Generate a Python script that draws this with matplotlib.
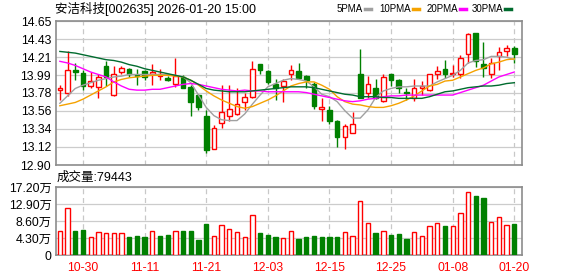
import matplotlib
matplotlib.use("Agg")
import matplotlib.pyplot as plt
from matplotlib.lines import Line2D
import numpy as np

# Data (60 trading days 10-27 .. 01-20)
opens = [13.81, 13.78, 14.06, 14.02, 13.86, 13.85, 14.10, 13.75, 14.03, 14.07,
         13.99, 14.04, 14.00, 13.98, 13.96, 13.89, 13.97, 13.85, 13.75, 13.50,
         13.10, 13.41, 13.49, 13.52, 13.66, 13.73, 14.13, 14.04, 13.88, 13.86,
         14.01, 14.04, 13.98, 13.89, 13.58, 13.57, 13.44, 13.24, 13.29, 14.01,
         13.78, 13.83, 13.68, 14.00, 13.93, 13.79, 13.71, 13.84, 13.81, 14.01,
         14.07, 14.00, 14.01, 14.25, 14.51, 14.13, 14.01, 14.22, 14.29, 14.32]
closes = [13.84, 14.05, 14.03, 13.86, 13.92, 13.97, 13.97, 14.01, 14.08, 14.01,
          13.98, 13.97, 14.03, 14.01, 13.93, 13.98, 13.84, 13.66, 13.61, 13.08,
          13.35, 13.54, 13.58, 13.64, 13.73, 14.07, 14.05, 13.91, 13.83, 13.92,
          14.06, 13.96, 13.93, 13.62, 13.60, 13.43, 13.24, 13.37, 13.40, 13.72,
          13.88, 13.71, 13.97, 13.93, 13.83, 13.78, 13.83, 13.86, 14.00, 14.04,
          14.01, 14.02, 14.20, 14.49, 14.16, 14.08, 14.14, 14.27, 14.32, 14.25]
highs = [13.87, 14.29, 14.14, 14.05, 14.03, 14.01, 14.16, 14.10, 14.10, 14.08,
         14.07, 14.05, 14.13, 14.07, 13.98, 14.20, 13.99, 13.87, 13.76, 13.57,
         13.39, 13.87, 13.87, 13.83, 13.78, 14.16, 14.13, 14.05, 13.94, 13.94,
         14.11, 14.14, 13.99, 13.91, 13.71, 13.62, 13.45, 13.40, 13.54, 14.31,
         13.98, 13.94, 14.00, 14.01, 13.95, 13.83, 13.95, 13.92, 14.00, 14.10,
         14.17, 14.12, 14.24, 14.51, 14.51, 14.39, 14.20, 14.34, 14.36, 14.35]
lows = [13.69, 13.74, 13.93, 13.81, 13.83, 13.71, 13.86, 13.74, 14.00, 13.97,
        13.87, 13.93, 13.87, 13.93, 13.92, 13.85, 13.83, 13.50, 13.57, 13.05,
        13.10, 13.35, 13.44, 13.51, 13.57, 13.71, 14.00, 13.89, 13.69, 13.67,
        13.93, 13.95, 13.84, 13.58, 13.43, 13.40, 13.12, 13.09, 13.29, 13.71,
        13.72, 13.70, 13.67, 13.86, 13.77, 13.69, 13.68, 13.75, 13.80, 13.95,
        13.96, 13.97, 13.96, 14.14, 14.09, 13.97, 13.96, 14.05, 14.22, 14.14]
volumes = [6.04, 12.00, 6.04, 6.29, 4.45, 5.71, 5.54, 5.45, 5.45, 4.53,
           4.78, 4.53, 5.96, 4.78, 5.03, 5.96, 6.04, 6.04, 3.78, 7.80,
           4.70, 7.47, 6.46, 5.79, 4.45, 10.24, 5.54, 5.03, 4.53, 4.20,
           6.04, 4.03, 4.53, 4.78, 4.53, 4.53, 4.53, 5.79, 4.78, 13.76,
           8.05, 5.54, 6.04, 5.03, 5.29, 4.03, 5.79, 4.78, 7.30, 8.05,
           7.30, 7.30, 10.57, 16.03, 14.85, 14.35, 8.31, 9.73, 7.55, 7.94]
ma5 = [13.65, 13.74, 13.83, 13.87, 13.90, 13.93, 13.95, 13.97, 13.98, 14.00,
       14.00, 14.00, 14.00, 14.00, 14.00, 13.99, 13.97, 13.90, 13.75, 13.60,
       13.50, 13.45, 13.44, 13.44, 13.52, 13.64, 13.75, 13.85, 13.89, 13.93,
       13.95, 13.94, 13.92, 13.85, 13.76, 13.73, 13.67, 13.56, 13.47, 13.47,
       13.57, 13.72, 13.80, 13.83, 13.85, 13.85, 13.86, 13.86, 13.86, 13.91,
       13.95, 13.99, 14.05, 14.14, 14.17, 14.18, 14.22, 14.22, 14.21, 14.18]
ma10 = [13.62, 13.64, 13.66, 13.70, 13.75, 13.80, 13.85, 13.91, 13.94, 13.96,
        13.97, 13.98, 13.99, 13.99, 13.99, 13.98, 13.97, 13.93, 13.87, 13.80,
        13.74, 13.69, 13.65, 13.61, 13.59, 13.61, 13.65, 13.69, 13.74, 13.80,
        13.86, 13.89, 13.91, 13.91, 13.87, 13.82, 13.73, 13.67, 13.64, 13.63,
        13.61, 13.60, 13.60, 13.62, 13.65, 13.69, 13.74, 13.80, 13.86, 13.88,
        13.92, 13.93, 13.97, 14.01, 14.05, 14.08, 14.13, 14.15, 14.18, 14.19]
ma20 = [14.16, 14.14, 14.11, 14.07, 14.03, 14.00, 13.97, 13.91, 13.86, 13.82,
        13.81, 13.81, 13.82, 13.82, 13.84, 13.86, 13.88, 13.89, 13.88, 13.86,
        13.84, 13.82, 13.81, 13.80, 13.81, 13.80, 13.80, 13.79, 13.79, 13.79,
        13.79, 13.79, 13.78, 13.76, 13.74, 13.72, 13.70, 13.68, 13.67, 13.68,
        13.70, 13.71, 13.73, 13.74, 13.74, 13.75, 13.75, 13.75, 13.75, 13.75,
        13.75, 13.75, 13.78, 13.81, 13.84, 13.87, 13.92, 13.97, 14.00, 14.03]
ma30 = [14.28, 14.27, 14.26, 14.24, 14.22, 14.20, 14.18, 14.17, 14.15, 14.12,
        14.10, 14.07, 14.05, 14.03, 14.01, 13.99, 13.97, 13.93, 13.88, 13.83,
        13.81, 13.80, 13.79, 13.79, 13.79, 13.80, 13.81, 13.82, 13.83, 13.84,
        13.85, 13.85, 13.85, 13.84, 13.82, 13.80, 13.78, 13.76, 13.75, 13.73,
        13.73, 13.73, 13.72, 13.72, 13.71, 13.71, 13.71, 13.71, 13.73, 13.76,
        13.79, 13.80, 13.82, 13.84, 13.85, 13.86, 13.86, 13.87, 13.89, 13.90]
date_labels = ["10-30", "11-11", "11-21", "12-03", "12-15", "12-25", "01-08", "01-20"]
date_pos = [3, 11, 19, 27, 35, 43, 51, 59]
price_ticks = [12.90, 13.12, 13.34, 13.56, 13.78, 13.99, 14.21, 14.43, 14.65]
vol_ticks = [0, 4.30, 8.60, 12.90, 17.20]

RED = "#ff0000"
GREEN = "#008000"
FRAME = "#8c8c8c"
FONT = ["Liberation Sans", "Noto Sans CJK SC"]
plt.rcParams['font.family'] = FONT

x = np.arange(len(closes))
o = np.array(opens)
c = np.array(closes)
up = c >= o

fig = plt.figure(figsize=(5.78, 2.76), dpi=100)
ax = fig.add_axes([56 / 578, 1 - 165 / 276, 466 / 578, 144 / 276])
axv = fig.add_axes([56 / 578, 1 - 255 / 276, 466 / 578, 68 / 276])

for a in (ax, axv):
    a.set_xlim(-0.5, 60)
    for s in a.spines.values():
        s.set_color(FRAME)
        s.set_linewidth(1.2)
    a.set_xticks(date_pos)
    a.tick_params(length=0)
    a.grid(axis='x', color="#c8c8c8", linestyle=(0, (4, 3)), linewidth=0.9)
    a.grid(axis='y', color="#cccccc", linestyle='-', linewidth=0.9)
    a.set_axisbelow(True)

# candles
colors = np.where(up, RED, GREEN)
ax.vlines(x, lows, highs, colors=colors, linewidth=1, zorder=2)
body_bottom = np.minimum(o, c)
body_h = np.maximum(np.abs(c - o), 0.012)
ax.bar(x, body_h, 0.6, bottom=body_bottom, facecolor=np.where(up, "white", GREEN),
       edgecolor=colors, linewidth=1, zorder=3)

ax.plot(x, ma5, color="#a0a0a0", linewidth=1, zorder=4)
ax.plot(x, ma10, color="#f5a200", linewidth=1, zorder=4)
ax.plot(x, ma20, color="#ff00ff", linewidth=1, zorder=4)
ax.plot(x, ma30, color="#006b2e", linewidth=1, zorder=4)

ax.set_ylim(12.90, 14.65)
ax.set_yticks(price_ticks)
ax.set_yticklabels(["%.2f" % v for v in price_ticks], fontsize=8.8)
ax.set_xticklabels([])

# volume bars, coloured by close vs previous close
prev = np.concatenate([[o[0]], c[:-1]])
vup = c >= prev
axv.bar(x, volumes, 0.56, facecolor=np.where(vup, "white", GREEN),
        edgecolor=np.where(vup, RED, GREEN), linewidth=1, zorder=3)
axv.set_ylim(0, 17.2)
axv.set_yticks(vol_ticks)
axv.set_yticklabels(["0"] + ["%.2f万" % v for v in vol_ticks[1:]], fontsize=8.8)
axv.set_xticklabels(date_labels, fontsize=8.8, color=RED)
axv.tick_params(axis='x', pad=5)
axv.tick_params(axis='y', pad=3)

fig.text(55 / 578, 1 - 9 / 276, "安洁科技[002635] 2026-01-20 15:00", fontsize=9,
         va='center', ha='left')
fig.text(57 / 578, 1 - 178 / 276, "成交量:79443", fontsize=9, va='center', ha='left')

# legend: label right-aligned before a short coloured dash
legend_items = [("5PMA", "#a0a0a0", 365), ("10PMA", "#f5a200", 413),
                ("20PMA", "#ff00ff", 460), ("30PMA", "#006b2e", 505)]
for label, col, px in legend_items:
    fig.text((px - 2) / 578, 1 - 9 / 276, label, fontsize=7, va='center', ha='right')
    x0 = px / 578
    fig.add_artist(Line2D([x0, x0 + 6 / 578], [1 - 9 / 276] * 2, color=col, linewidth=2.5))

fig.savefig("out.png", dpi=100)
